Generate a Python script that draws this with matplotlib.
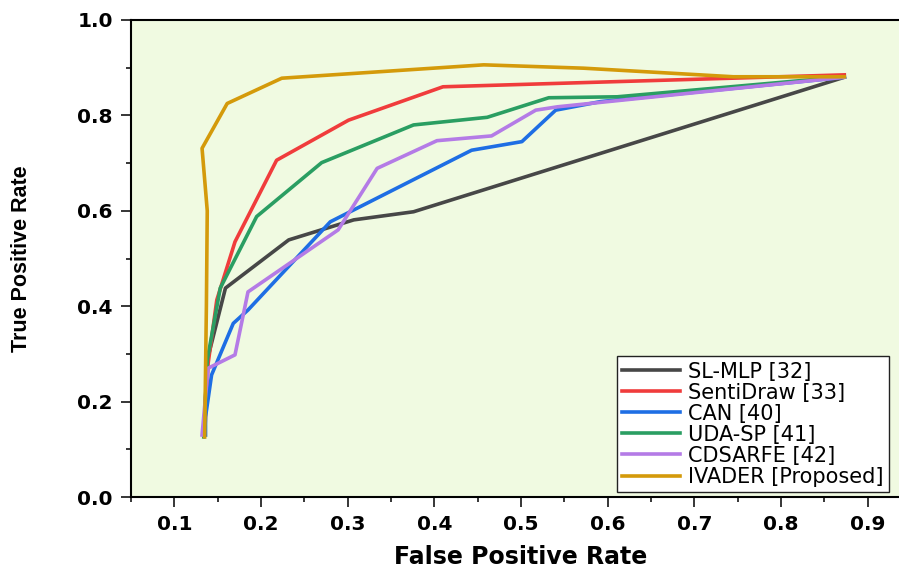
import matplotlib
matplotlib.use("Agg")
import matplotlib.pyplot as plt
from matplotlib.ticker import MultipleLocator

# ROC curves (false positive rate, true positive rate) for each method
labels = ["SL-MLP [32]", "SentiDraw [33]", "CAN [40]", "UDA-SP [41]",
          "CDSARFE [42]", "IVADER [Proposed]"]
colors = ["#474747", "#F03C3C", "#1E6EE4", "#2A9E62", "#B47BE6", "#D49A0A"]

fpr_slmlp = [0.134, 0.138, 0.159, 0.232, 0.307, 0.376, 0.873]
tpr_slmlp = [0.13, 0.287, 0.438, 0.539, 0.581, 0.598, 0.880]

fpr_sentidraw = [0.135, 0.139, 0.149, 0.170, 0.218, 0.301, 0.410, 0.873]
tpr_sentidraw = [0.13, 0.28, 0.413, 0.535, 0.706, 0.790, 0.860, 0.885]

fpr_can = [0.136, 0.136, 0.143, 0.168, 0.185, 0.280, 0.443, 0.501, 0.540, 0.592, 0.873]
tpr_can = [0.13, 0.168, 0.256, 0.364, 0.392, 0.577, 0.727, 0.745, 0.811, 0.829, 0.880]

fpr_udasp = [0.134, 0.138, 0.153, 0.195, 0.270, 0.376, 0.461, 0.532, 0.611, 0.873]
tpr_udasp = [0.126, 0.287, 0.438, 0.588, 0.701, 0.780, 0.796, 0.837, 0.839, 0.881]

fpr_cdsarfe = [0.132, 0.139, 0.170, 0.185, 0.289, 0.334, 0.403, 0.466, 0.517, 0.542, 0.873]
tpr_cdsarfe = [0.13, 0.270, 0.298, 0.430, 0.560, 0.689, 0.747, 0.757, 0.811, 0.818, 0.880]

fpr_ivader = [0.135, 0.137, 0.138, 0.132, 0.161, 0.224, 0.457, 0.572, 0.745, 0.873]
tpr_ivader = [0.126, 0.40, 0.60, 0.731, 0.825, 0.878, 0.906, 0.899, 0.881, 0.881]

curves = [(fpr_slmlp, tpr_slmlp), (fpr_sentidraw, tpr_sentidraw), (fpr_can, tpr_can),
          (fpr_udasp, tpr_udasp), (fpr_cdsarfe, tpr_cdsarfe), (fpr_ivader, tpr_ivader)]

fig = plt.figure(figsize=(8.99, 5.73), dpi=100)
ax = fig.add_axes([0.1457, 0.1326, 0.8677, 0.8325])
ax.set_facecolor("#F0FAE1")

for (fpr, tpr), lab, col in zip(curves, labels, colors):
    ax.plot(fpr, tpr, color=col, lw=2.6, label=lab)

ax.set_xlim(0.05, 0.95)
ax.set_ylim(0.0, 1.0)
ax.xaxis.set_major_locator(MultipleLocator(0.1))
ax.xaxis.set_minor_locator(MultipleLocator(0.05))
ax.yaxis.set_major_locator(MultipleLocator(0.2))
ax.yaxis.set_minor_locator(MultipleLocator(0.1))
ax.set_xticks([0.1, 0.2, 0.3, 0.4, 0.5, 0.6, 0.7, 0.8, 0.9])
ax.set_xticklabels(["0.1", "0.2", "0.3", "0.4", "0.5", "0.6", "0.7", "0.8", "0.9"])

ax.tick_params(which="major", direction="out", length=7, width=1.1, pad=6)
ax.tick_params(which="minor", direction="out", length=3.5, width=1.1)
for lbl in ax.get_xticklabels() + ax.get_yticklabels():
    lbl.set_fontsize(14.5)
    lbl.set_fontweight("bold")

for side in ["left", "bottom", "top", "right"]:
    ax.spines[side].set_linewidth(1.5)

ax.set_xlabel("False Positive Rate", fontsize=17, fontweight="bold", labelpad=8)
ax.set_ylabel("True Positive Rate", fontsize=15.5, fontweight="bold",
              family="Liberation Sans", labelpad=33)

leg = ax.legend(loc="lower right", bbox_to_anchor=(0.972, 0.0105), borderaxespad=0,
                fontsize=15, labelspacing=0.05, borderpad=0.25, handlelength=2.8,
                handletextpad=0.4, fancybox=False, framealpha=1.0)
leg.get_frame().set_edgecolor("#222222")
leg.get_frame().set_linewidth(1.0)

fig.savefig("out.png", dpi=100)
